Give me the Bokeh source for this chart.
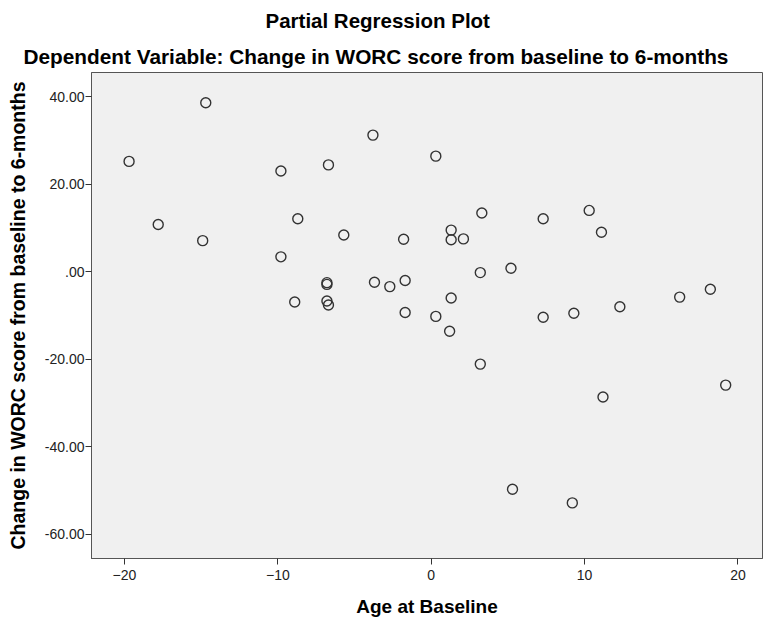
from bokeh.plotting import figure
from bokeh.models import Range1d, FixedTicker, CustomJSTickFormatter, Title, ColumnDataSource
from bokeh.embed import file_html
from bokeh.resources import INLINE

# ---- data ----
age = [-19.7, -17.8, -14.7, -14.9, -9.8, -9.8, -8.7, -8.9, -6.7, -6.8, -6.8,
       -6.8, -6.7, -5.7, -3.8, -3.7, -2.7, -1.8, -1.7, -1.7, 0.3, 0.3, 1.3,
       1.3, 1.3, 1.2, 2.1, 3.3, 3.2, 3.2, 5.2, 5.3, 7.3, 7.3, 9.3, 9.2, 10.3,
       11.1, 11.2, 12.3, 16.2, 18.2, 19.2]
change = [25.2, 10.8, 38.6, 7.1, 23.0, 3.4, 12.1, -6.9, 24.4, -2.5, -2.9,
          -6.7, -7.6, 8.4, 31.2, -2.4, -3.4, 7.4, -2.0, -9.3, 26.4, -10.2, 9.5,
          7.3, -6.0, -13.6, 7.5, 13.4, -0.2, -21.1, 0.8, -49.7, 12.1, -10.4,
          -9.5, -52.8, 14.0, 9.0, -28.6, -8.0, -5.8, -4.0, -25.9]

title_text = "Partial Regression Plot"
subtitle_text = "Dependent Variable: Change in WORC score from baseline to 6-months"
x_label = "Age at Baseline"
y_label = "Change in WORC score from baseline to 6-months"
x_ticks = [-20, -10, 0, 10, 20]
y_ticks = [-60, -40, -20, 0, 20, 40]

FONT = "Liberation Sans"

src = ColumnDataSource(dict(age=age, change=change))

p = figure(width=764, height=622, output_backend="svg", toolbar_location=None,
           x_range=Range1d(-22.15, 21.6), y_range=Range1d(-65.5, 45.5),
           min_border_left=91, min_border_right=2, min_border_top=72,
           min_border_bottom=64)
p.background_fill_color = "#f0f0f0"
p.border_fill_color = "white"
p.outline_line_color = "#555555"
p.outline_line_width = 1
p.grid.visible = False

p.scatter("age", "change", source=src, size=10, fill_color=None,
          line_color="#333333", line_width=1.4)

# axes
for ax in (p.xaxis[0], p.yaxis[0]):
    ax.axis_line_color = "#555555"
    ax.major_tick_line_color = "#333333"
    ax.major_tick_out = 6
    ax.major_tick_in = 0
    ax.minor_tick_line_color = None
    ax.major_label_text_font = FONT
    ax.major_label_text_font_size = "14px"
    ax.major_label_text_color = "#222222"
    ax.axis_label_text_font = FONT
    ax.axis_label_text_font_style = "bold"
    ax.axis_label_text_color = "#000000"

p.xaxis[0].axis_label_text_font_size = "19px"
p.yaxis[0].axis_label_text_font_size = "19.5px"
p.xaxis[0].ticker = FixedTicker(ticks=x_ticks)
p.yaxis[0].ticker = FixedTicker(ticks=y_ticks)
p.xaxis[0].axis_label = x_label
p.yaxis[0].axis_label = y_label
p.xaxis[0].major_label_standoff = 5
p.xaxis[0].axis_label_standoff = 13
p.yaxis[0].major_label_standoff = 1
p.yaxis[0].axis_label_standoff = 13
p.yaxis[0].formatter = CustomJSTickFormatter(code="""
let s = tick.toFixed(2);
if (s.startsWith('0.')) s = s.slice(1);
if (s.startsWith('-0.')) s = '-' + s.slice(2);
return s;
""")

# titles: main title on top, subtitle nearest the frame
p.title = Title(text=title_text, align="left", offset=174, standoff=12,
                text_font=FONT, text_font_style="bold",
                text_font_size="20.5px", text_color="#000000")
p.add_layout(Title(text=subtitle_text, align="left", offset=-68, standoff=10,
                   text_font=FONT, text_font_style="bold",
                   text_font_size="20.8px", text_color="#000000"), "above")

open("out.html", "w").write(file_html(p, INLINE))
